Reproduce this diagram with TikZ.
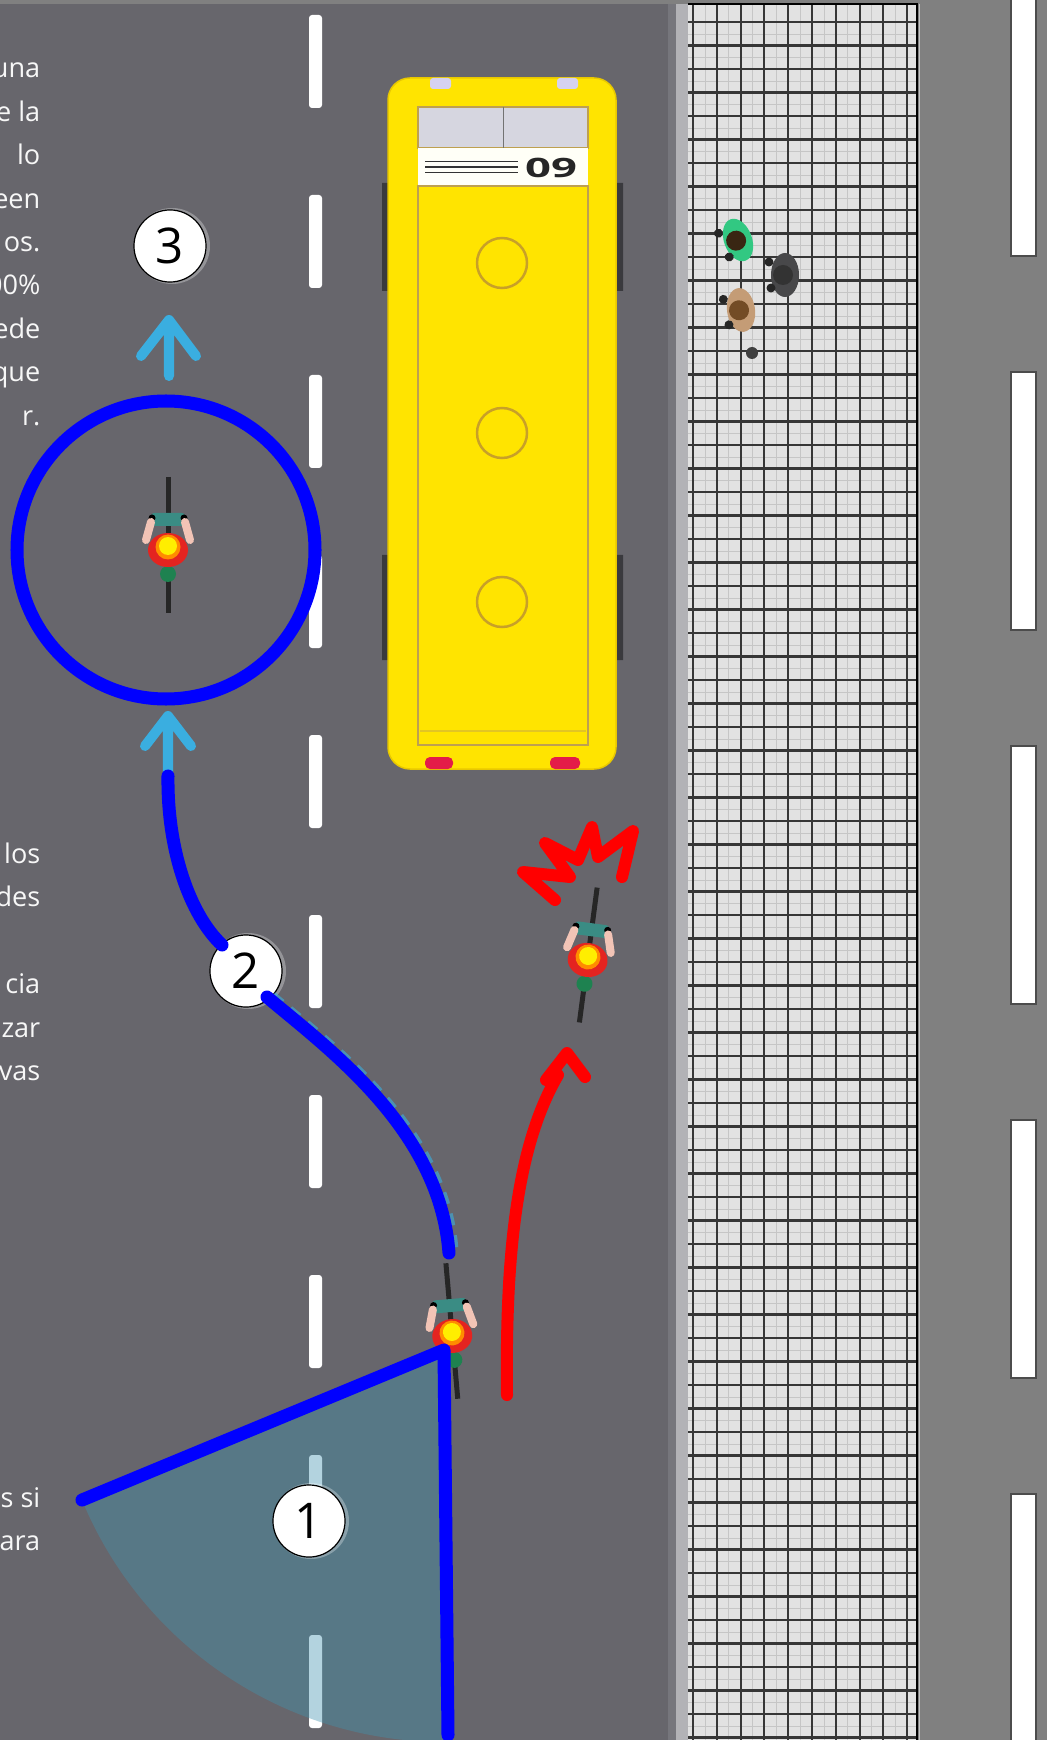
\documentclass[tikz,border=0pt]{standalone}
\usepackage{fontspec}
\setmainfont{Open Sans}
\usetikzlibrary{calc}

\definecolor{road}{RGB}{103,102,108}
\definecolor{sidegray}{RGB}{128,128,128}
\definecolor{curbdark}{RGB}{118,118,124}
\definecolor{curblight}{RGB}{178,178,182}
\definecolor{gridbg}{RGB}{226,226,226}
\definecolor{gridline}{RGB}{55,55,55}
\definecolor{gridminor}{RGB}{198,198,198}
\definecolor{busyellow}{RGB}{255,228,0}
\definecolor{busedge}{RGB}{232,200,0}
\definecolor{bustrim}{RGB}{190,160,80}
\definecolor{busring}{RGB}{200,160,40}
\definecolor{buswin}{RGB}{214,214,224}
\definecolor{buslight}{RGB}{214,210,240}
\definecolor{busred}{RGB}{228,28,72}
\definecolor{busstrip}{RGB}{58,58,62}
\definecolor{lblue}{RGB}{58,174,224}
\definecolor{shadefill}{RGB}{65,147,175}
\definecolor{skin}{RGB}{242,196,182}
\definecolor{torso}{RGB}{228,36,32}
\definecolor{shirt}{RGB}{58,140,132}
\definecolor{seat}{RGB}{30,130,80}
\definecolor{headyellow}{RGB}{255,238,0}
\definecolor{headorange}{RGB}{255,140,0}
\definecolor{pedgreen}{RGB}{50,200,130}
\definecolor{pedgray}{RGB}{72,72,74}
\definecolor{pedbrown}{RGB}{196,156,118}

\tikzset{
  blueline/.style={draw={rgb,255:red,0;green,0;blue,255}, line width=0.13cm, line cap=round, line join=round},
  redline/.style={draw=red, line width=0.12cm, line cap=round, line join=round},
  lbluearrow/.style={draw=lblue, line width=0.10cm, line cap=round, line join=round},
  gridrule/.style={draw=gridline, line width=0.021cm},
  gridfine/.style={draw=gridminor, line width=0.008cm},
  lanedash/.style={fill=white, rounded corners=0.03cm},
  numcirc/.style={circle, fill=white, draw=black, line width=0.012cm, minimum size=0.72cm, inner sep=0pt, font=\fontsize{14}{14}\selectfont},
  sidetext/.style={anchor=base east, inner sep=0pt, text=white!94!gray, font=\fontsize{7.7}{9}\selectfont},
}

% top view of a cyclist, head at the origin, riding towards -y (up)
\newcommand\rider{%
  \draw[line width=0.05cm, black!85] (0,-70) -- (0,66);
  \fill[shirt, rounded corners=0.03cm] (-17,-34) rectangle (17,-21);
  \fill[black] (-16,-29) circle[radius=3.5] (16,-29) circle[radius=3.5];
  \draw[skin, line width=0.08cm, line cap=round] (-17,-25) -- (-22,-7) (17,-25) -- (22,-7);
  \fill[seat] (0,27) circle[radius=8];
  \fill[torso] (0,3) ellipse[x radius=20, y radius=17];
  \fill[headorange] (0,0) circle[radius=12.5];
  \fill[headyellow] (0,-1) circle[radius=9];
}

% top view of a pedestrian facing left
\newcommand\walker[2]{%
  \fill[#1] (0,0) ellipse[x radius=14, y radius=22];
  \fill[#2] (-2,0) circle[radius=10];
  \fill[black!85] (-16,-13) circle[radius=4.5] (-14,13) circle[radius=4.5];
}

\begin{document}
\begin{tikzpicture}[x=0.01cm, y=-0.01cm]
\useasboundingbox (0,0) rectangle (1047,1740);
\clip (0,0) rectangle (1047,1740);

% ground
\fill[sidegray] (0,0) rectangle (1047,1740);
\fill[road] (0,4) rectangle (668,1740);
\fill[curbdark] (668,4) rectangle (676,1740);
\fill[curblight] (676,4) rectangle (688,1740);

% paved sidewalk
\fill[gridbg] (688,4) rectangle (917,1740);
\draw[gridfine] foreach \k in {0,...,9} {({705+23.8*\k},4) -- ({705+23.8*\k},1740)};
\draw[gridfine] foreach \k in {0,...,73} {(688,{34+23.5*\k}) -- (917,{34+23.5*\k})};
\draw[gridrule] foreach \k in {0,...,9} {({693+23.8*\k},4) -- ({693+23.8*\k},1740)};
\draw[gridrule] foreach \k in {0,...,73} {(688,{22+23.5*\k}) -- (917,{22+23.5*\k})};
\draw[black, line width=0.02cm] (688,4) -- (917,4) -- (917,1740);

% parking marks on the far right
\foreach \yy in {-2,372,746,1120,1494}
  \filldraw[fill=white, draw=black!70, line width=0.015cm] (1011,\yy) rectangle (1036,{\yy+258});

% centre line
\foreach \k in {-5,...,4} \fill[lanedash] (309,{915+180*\k}) rectangle (322,{1008+180*\k});

% explanatory text running off the left edge
\foreach \t [count=\i from 0] in {una,e la,lo,een,os.,00\%,ede,que,r.}
  \node[sidetext] (ta\i) at (41,{78+43.4*\i}) {\t};
\foreach \t/\yy [count=\i] in {los/863,des/906.5,cia/993.5,zar/1037,vas/1080.5}
  \node[sidetext] (tb\i) at (41,\yy) {\t};
\node[sidetext] (tc1) at (41,1507) {s si};
\node[sidetext] (tc2) at (41,1550) {ara};

% blind spot sector behind the cyclist
\coordinate (apex) at (444,1350);
\coordinate (wedgeL) at (82,1500);
\coordinate (wedgeB) at (448,1735);
\fill[shadefill, opacity=0.4] (apex) -- (wedgeL) arc[start angle=157.5, end angle=90, radius=392] -- cycle;

% bus
\fill[busstrip] (382,183) rectangle (391,291) (382,555) rectangle (391,660);
\fill[busstrip] (614,183) rectangle (623,291) (614,555) rectangle (623,660);
\filldraw[fill=busyellow, draw=busedge, line width=0.015cm, rounded corners=0.22cm] (388,78) rectangle (616,769);
\fill[buslight, rounded corners=0.03cm] (430,78) rectangle (451,89) (557,78) rectangle (578,89);
\filldraw[fill=buswin, draw=bustrim, line width=0.012cm] (418,107) rectangle (588,148);
\draw[black!55, line width=0.01cm] (503,107) -- (503,148);
\fill[white!97!yellow] (418,148) rectangle (588,186);
\foreach \yy in {161.5,167,172.5} \draw[black!80, line width=0.019cm] (425,\yy) -- (518,\yy);
\node[inner sep=0pt, text=black!85, font=\bfseries\fontsize{7.6}{8}\selectfont] (busno) at (551,167.5) {\scalebox{1.7}[1]{09}};
\draw[bustrim, line width=0.02cm] (418,186) rectangle (588,745);
\draw[bustrim!45!busyellow, line width=0.012cm] (420,731) -- (586,731);
\foreach \yy in {263,433,602} \draw[busring, line width=0.025cm] (502,\yy) circle[radius=25];
\fill[busred, rounded corners=0.05cm] (425,757) rectangle (453,769) (550,757) rectangle (580,769);

% pedestrians on the sidewalk
\begin{scope}[shift={(738,240)}, rotate=20]\walker{pedgreen}{black!70!brown}\end{scope}
\begin{scope}[shift={(785,275)}]\walker{pedgray}{black!80}\end{scope}
\begin{scope}[shift={(741,310)}, rotate=8]\walker{pedbrown}{brown!60!black}\end{scope}
\fill[black!75] (752,353) circle[radius=6];

% light blue direction arrows
\draw[lbluearrow] (169,376) -- (169,320) (141,356) -- (169,320) -- (196,356);
\draw[lbluearrow] (168,776) -- (168,716) (145,746) -- (168,716) -- (191,746);

% riders
\begin{scope}[shift={(168,547)}]\rider\end{scope}
\begin{scope}[shift={(452,1333)}, rotate=5]\rider\end{scope}
\begin{scope}[shift={(588,957)}, rotate=-7.5]\rider\end{scope}

% the isolated rider in the free lane
\draw[blueline] (166,550) circle[radius=149];

% numbered steps
\fill[white, opacity=0.3] (311,1521) circle[radius=38] (248,971) circle[radius=38] (172,246) circle[radius=38];
\node[numcirc] (n1) at (309,1521) {1};
\node[numcirc] (n2) at (246,971) {2};
\node[numcirc] (n3) at (170,246) {3};

% overtaking path, passing step 2
\draw[lblue, opacity=0.6, line width=0.07cm, dash pattern=on 0.12cm off 0.1cm] (273,995) .. controls (336,1048) and (446,1128) .. (455,1250);
\draw[blueline] (168,776) .. controls (167,850) and (190,915) .. (222,945);
\draw[blueline] (267,997) .. controls (330,1050) and (440,1130) .. (449,1253);

% blind spot edges
\draw[blueline] (wedgeL) -- (apex) -- (wedgeB);

% unsafe overtaking along the bus
\draw[redline] (507,1395) .. controls (505,1240) and (520,1140) .. (558,1075);
\draw[redline] (546,1080) -- (567,1053) -- (585,1077);
\draw[redline] (555,900) -- (523,872) -- (570,877) -- (545,843) -- (578,860) -- (592,827) -- (598,857) -- (633,831) -- (622,877);
\end{tikzpicture}
\end{document}
